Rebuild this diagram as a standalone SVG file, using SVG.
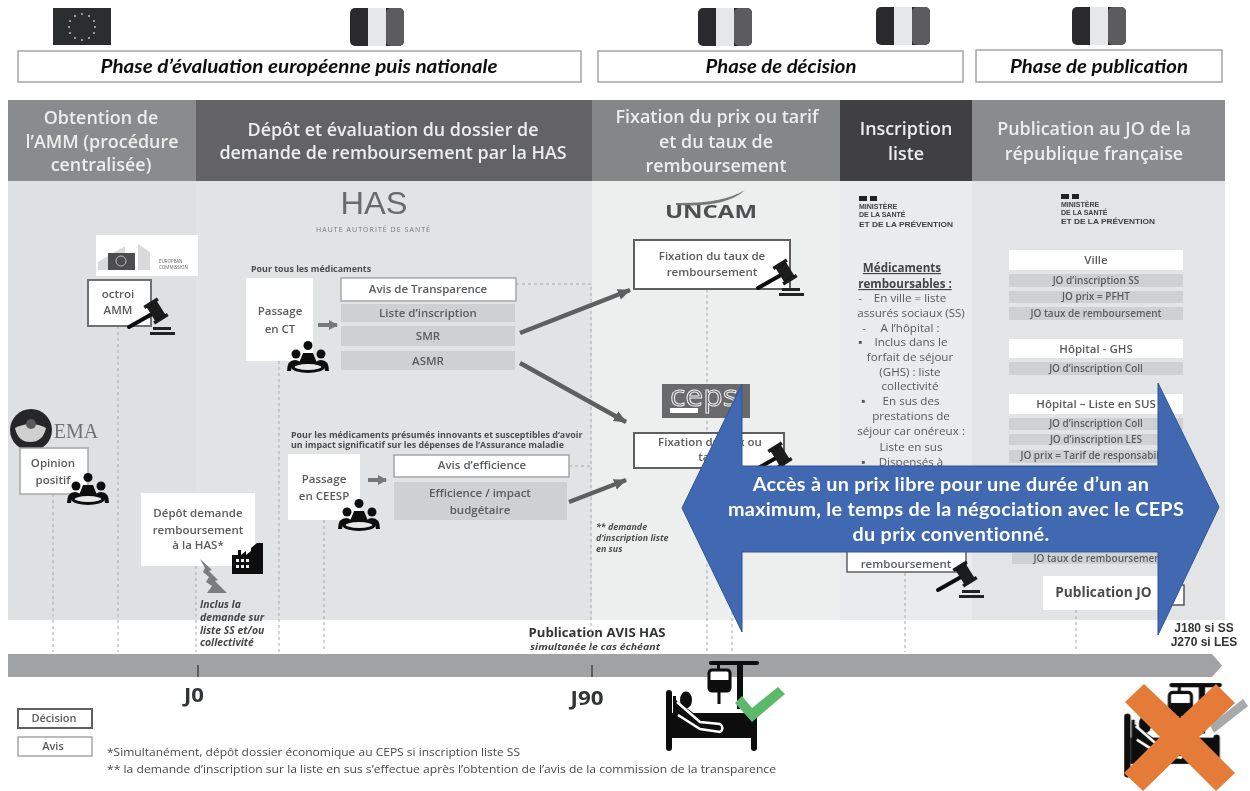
<svg xmlns="http://www.w3.org/2000/svg" xmlns:xlink="http://www.w3.org/1999/xlink" width="1250" height="791" viewBox="0 0 1250 791">
<style>
text{font-family:"Open Sans","Liberation Sans",sans-serif;text-anchor:middle}
.phase{font-family:Lato,"Open Sans",sans-serif;font-weight:700;font-style:italic;font-size:18.5px;fill:#111}
.phaseBox{fill:#fff;stroke:#a3a5a7;stroke-width:1.5}
.head{font-size:17.9px;font-weight:600;fill:#eceded}
.t{font-size:11.5px;fill:#5a5b5d;font-weight:600}
.s{font-size:10px;fill:#5a5b5d;font-weight:600}
.m{font-size:11.6px;fill:#58595b;font-weight:400}
.mh{font-size:11.6px;font-weight:700;fill:#444;text-decoration:underline}
.note{font-size:8.9px;font-weight:700;fill:#4c4d4f;text-anchor:start}
.ital{font-size:10.4px;font-weight:700;font-style:italic;fill:#454648;text-anchor:start}
.gbar{fill:#cfd0d2}
.wbar{fill:#fff}
.w2{fill:#fff;stroke:#a5a7a9;stroke-width:1.5}
.dec{fill:#fff;stroke:#5e5f61;stroke-width:2}
.dash{fill:none;stroke:#a9aaac;stroke-width:1;stroke-dasharray:3 3}
.thick{fill:none;stroke:#5d5e60;stroke-width:4.5;marker-end:url(#ah)}
.small{fill:none;stroke:#77787a;stroke-width:4;marker-end:url(#ah2)}
.blue{font-family:Lato,"Open Sans",sans-serif;font-weight:700;font-size:19.8px;fill:#fff;letter-spacing:.3px}
.mini{font-size:7px;font-weight:700;fill:#3f4042;text-anchor:start;font-family:"Liberation Sans",sans-serif}
.big{font-weight:700;fill:#333436;font-family:"Open Sans",sans-serif}
.day{font-weight:700;fill:#333436;font-family:"Liberation Sans",sans-serif;font-size:12px}
</style>
<defs>
<filter id="soft" x="0" y="0" width="100%" height="100%"><feGaussianBlur stdDeviation="0.45"/></filter>
<marker id="ah" markerUnits="userSpaceOnUse" markerWidth="14" markerHeight="14" refX="12" refY="7" orient="auto"><path d="M0 1.5L13 7L0 12.500z" fill="#5d5e60"/></marker>
<marker id="ah2" markerUnits="userSpaceOnUse" markerWidth="10" markerHeight="12" refX="8" refY="6" orient="auto"><path d="M0 1L9 6L0 11z" fill="#77787a"/></marker>
<symbol id="fr" overflow="visible"><rect width="54" height="38" rx="5" fill="#2a2b2d"/><rect x="36" width="18" height="38" rx="5" fill="#5b5c5f"/><rect x="18" width="18" height="38" fill="#e6e7e8"/></symbol>
<symbol id="gavel" overflow="visible"><path d="M1 0L24 -13" stroke="#111" stroke-width="4" stroke-linecap="round"/><g transform="translate(28 -16) rotate(-32)"><rect x="-6" y="-9" width="12" height="18" fill="#1a1a1a"/><rect x="-8" y="-11" width="16" height="3.500" fill="#1a1a1a"/><rect x="-8" y="7.500" width="16" height="3.500" fill="#1a1a1a"/></g><rect x="25" y="0" width="18" height="3" fill="#222"/><rect x="22" y="5" width="25" height="3" fill="#222"/></symbol>
<symbol id="people" overflow="visible"><g fill="#111"><circle cx="21" cy="4.500" r="4.500"/><circle cx="9" cy="13" r="4.500"/><circle cx="34" cy="13" r="4.500"/><path d="M12 22L16 12H26L30 22z"/><path d="M0 30Q0 19 8 19Q11 19 13 21Q4 24 4 30zM42 30Q42 19 34 19Q31 19 29 21Q38 24 38 30z"/></g><ellipse cx="21" cy="26" rx="15" ry="4.500" fill="#e8e8e8" stroke="#111" stroke-width="3"/></symbol>
<symbol id="bed" overflow="visible"><g fill="#0c0c0c"><rect x="47" y="1" width="50" height="4" rx="2"/><rect x="75" y="3" width="6" height="46"/><rect x="55" y="4" width="3" height="7"/><rect x="47" y="10" width="21" height="21" rx="3" fill="#fff" stroke="#0c0c0c" stroke-width="3"/><rect x="48" y="20" width="19" height="11"/><rect x="55.500" y="30" width="3" height="14"/><rect x="4" y="30" width="6" height="61" rx="3"/><rect x="89" y="50" width="6" height="41" rx="3"/><rect x="10" y="53" width="80" height="25"/><rect x="11" y="36" width="3" height="20"/><ellipse cx="24" cy="40" rx="6" ry="8.500"/><path d="M14 40L34 55H12z"/></g><path d="M15 42L38 62L58 64Q63 68 58 72L38 69L16 55" fill="none" stroke="#fff" stroke-width="2.500"/></symbol>
</defs>
<rect width="1250" height="791" fill="#fff"/>
<g filter="url(#soft)">
<g id="flags">
<rect x="53" y="8" width="58" height="37" fill="#2c2d2f"/>
<g fill="#bdbebf"><circle cx="82" cy="14" r="1"/><circle cx="89" cy="16" r="1"/><circle cx="94" cy="21" r="1"/><circle cx="95" cy="27" r="1"/><circle cx="94" cy="33" r="1"/><circle cx="89" cy="38" r="1"/><circle cx="82" cy="40" r="1"/><circle cx="75" cy="38" r="1"/><circle cx="70" cy="33" r="1"/><circle cx="69" cy="27" r="1"/><circle cx="70" cy="21" r="1"/><circle cx="75" cy="16" r="1"/></g>
<use href="#fr" x="350" y="8"/><use href="#fr" x="698" y="8"/><use href="#fr" x="876" y="7"/><use href="#fr" x="1072" y="7"/>
</g>
<g id="phases">
<rect class="phaseBox" x="18" y="51" width="563" height="31"/><text class="phase" x="299" y="73" textLength="397" lengthAdjust="spacingAndGlyphs">Phase d’évaluation européenne  puis nationale</text>
<rect class="phaseBox" x="598" y="51" width="365" height="31"/><text class="phase" x="781" y="73" textLength="151" lengthAdjust="spacingAndGlyphs">Phase de décision</text>
<rect class="phaseBox" x="976" y="50" width="246" height="32"/><text class="phase" x="1099" y="73" textLength="178" lengthAdjust="spacingAndGlyphs">Phase de publication</text>
</g>
<g id="bands">
<rect x="8" y="181" width="188" height="439" fill="#dfe0e1"/><rect x="196" y="181" width="396" height="439" fill="#e2e3e4"/><rect x="592" y="181" width="248" height="439" fill="#edeeee"/><rect x="840" y="181" width="132" height="439" fill="#eaebec"/><rect x="972" y="181" width="253" height="439" fill="#e2e4e5"/>
<rect x="8" y="100" width="188" height="81" fill="#898b8e"/><rect x="196" y="100" width="396" height="81" fill="#636466"/><rect x="592" y="100" width="248" height="81" fill="#858688"/><rect x="840" y="100" width="132" height="81" fill="#3f4043"/><rect x="972" y="100" width="253" height="81" fill="#8a8b8d"/>
<text class="head" x="101" y="124">Obtention de</text><text class="head" x="102" y="148">l’AMM (procédure</text><text class="head" x="101" y="171">centralisée)</text>
<text class="head" x="393" y="136">Dépôt et évaluation du dossier de</text><text class="head" x="393" y="159">demande de remboursement  par la HAS</text>
<text class="head" x="717" y="123">Fixation du prix ou tarif</text><text class="head" x="716" y="148">et du taux de</text><text class="head" x="716" y="172">remboursement</text>
<text class="head" x="906" y="135">Inscription</text><text class="head" x="906" y="160">liste</text>
<text class="head" x="1094" y="135">Publication au JO de la</text><text class="head" x="1094" y="160">république française</text>
</g>
<g id="timeline">
<path d="M8 654H1212L1222 665.500L1212 677H8z" fill="#a0a2a4"/>
<path d="M198 665V677M592 665V677" stroke="#444" stroke-width="1.500"/>
<text class="big" x="194" y="702" font-size="20" textLength="20" lengthAdjust="spacingAndGlyphs">J0</text><text class="big" x="587" y="705" font-size="20" textLength="33" lengthAdjust="spacingAndGlyphs">J90</text>
<text class="day" x="1204" y="632">J180 si SS</text><text class="day" x="1204" y="646">J270 si LES</text>
<text class="big" x="597" y="637" font-size="11.500" textLength="137" lengthAdjust="spacingAndGlyphs">Publication  AVIS  HAS</text>
<text x="595" y="650" font-size="9" font-weight="700" font-style="italic" fill="#444" textLength="130" lengthAdjust="spacingAndGlyphs">simultanée le cas échéant</text>
</g>
<g id="connectors">
<path class="dash" d="M53 494V652M118 326V652M196 566V652M279 361V652M324 520V652M516 284H591V652M569 466H591M707 289V433M707 468V652M732 468V652M905 573V652M1076 610V652"/>
<path class="thick" d="M520 333L630 290"/><path class="thick" d="M520 363L626 422"/><path class="thick" d="M569 502L626 480"/>
<path class="small" d="M318 325H337"/><path class="small" d="M368 480H386"/>
</g>
<g id="logo-has"><text x="374" y="214" font-size="31" fill="#6a6b6d" style="font-family:'Liberation Sans',sans-serif;font-weight:400" textLength="67" lengthAdjust="spacingAndGlyphs">HAS</text><text x="373" y="232" font-size="7" fill="#77787a" textLength="114">HAUTE AUTORITÉ DE SANTÉ</text></g>
<g id="logo-uncam"><path d="M676 203Q722 204 745 190Q726 208 676 205z" fill="#77787a"/><text x="711" y="218" font-size="17" font-weight="700" fill="#4e4f51" textLength="92" lengthAdjust="spacingAndGlyphs">UNCAM</text></g>
<g id="logo-ministere-1"><rect x="859" y="196" width="8" height="5" fill="#222"/><rect x="870" y="196" width="7" height="5" fill="#222"/><text class="mini" x="859" y="209">MINISTÈRE</text><text class="mini" x="859" y="217">DE LA SANTÉ</text><text class="mini" x="859" y="227" textLength="94" lengthAdjust="spacingAndGlyphs">ET DE LA PRÉVENTION</text></g>
<g id="logo-ministere-2"><rect x="1061" y="194" width="8" height="5" fill="#222"/><rect x="1072" y="194" width="7" height="5" fill="#222"/><text class="mini" x="1061" y="207">MINISTÈRE</text><text class="mini" x="1061" y="215">DE LA SANTÉ</text><text class="mini" x="1061" y="224" textLength="94" lengthAdjust="spacingAndGlyphs">ET DE LA PRÉVENTION</text></g>
<g id="logo-ec"><rect x="96" y="235" width="102" height="41" fill="#fff"/><path d="M98 262L125 246V270H98zM138 270V244L150 252V270z" fill="#d9dadb"/><rect x="108" y="253" width="27" height="17" fill="#4d4e50"/><circle cx="121" cy="261" r="5" fill="none" stroke="#bbb" stroke-width="1"/><text x="159" y="263" font-size="4.500" fill="#666" style="text-anchor:start">EUROPEAN</text><text x="159" y="269" font-size="4.500" fill="#666" style="text-anchor:start">COMMISSION</text></g>
<g id="logo-ema"><circle cx="31" cy="430" r="21" fill="#262729"/><path d="M15 428Q31 420 46 428Q43 442 30 442Q18 442 15 428z" fill="#d0d0d0"/><circle cx="31" cy="424" r="5" fill="#5a5a5a"/><text x="76" y="438" font-size="20" fill="#707173" style="font-family:'Liberation Serif',serif">EMA</text></g>
<g id="logo-ceps"><rect x="662" y="384" width="88" height="34" fill="#6a6b6d"/><text x="704" y="406" font-size="30" fill="none" stroke="#eee" stroke-width="1" style="font-weight:400" textLength="68" lengthAdjust="spacingAndGlyphs">ceps</text><rect x="670" y="408" width="28" height="5" fill="#fff"/></g>
<g id="node-octroi"><rect x="88" y="280" width="63" height="46" fill="#fff" stroke="#6e6f71" stroke-width="2"/><text class="t" x="118" y="298">octroi</text><text class="t" x="118" y="314">AMM</text><use href="#gavel" x="128" y="327"/></g>
<g id="node-opinion"><rect x="20" y="448" width="68" height="46" fill="#fff" stroke="#a5a7a9" stroke-width="1.500"/><text class="t" x="53" y="467">Opinion</text><text class="t" x="53" y="484">positif</text><use href="#people" x="67" y="473"/></g>
<g id="node-depot"><rect x="141" y="493" width="114" height="73" fill="#fff"/><text class="t" x="198" y="517">Dépôt demande</text><text class="t" x="198" y="534">remboursement</text><text class="t" x="198" y="549">à la HAS*</text>
<path d="M232 574V555H238V550H241V555L246 551V555L251 551V548L257 543H263V574z" fill="#111"/><g fill="#eee"><rect x="236" y="559" width="3" height="3"/><rect x="241" y="559" width="3" height="3"/><rect x="246" y="559" width="3" height="3"/><rect x="236" y="565" width="3" height="3"/><rect x="241" y="565" width="3" height="3"/><rect x="246" y="565" width="3" height="3"/></g>
<path d="M200 559L212 570L209 571L218 580L215 581L227 593L207 593L212 586L206 582L209 577L203 572L205 568z" fill="#7b7c7e"/>
<text class="ital" x="200" y="608">Inclus la</text><text class="ital" x="200" y="621">demande sur</text><text class="ital" x="200" y="634">liste SS et/ou</text><text class="ital" x="200" y="646">collectivité</text></g>
<g id="node-ct"><text class="note" x="251" y="272">Pour tous les médicaments</text><rect x="246" y="278" width="67" height="83" fill="#fff"/><text class="t" x="280" y="315">Passage</text><text class="t" x="280" y="333">en CT</text><use href="#people" x="287" y="341"/></g>
<g id="node-transparence"><rect class="w2" x="341" y="278" width="175" height="23"/><text class="t" x="428" y="293">Avis de Transparence</text>
<rect class="gbar" x="341" y="304" width="174" height="18"/><text class="t" x="428" y="317">Liste d’inscription</text>
<rect class="gbar" x="341" y="326" width="174" height="20"/><text class="t" x="428" y="340">SMR</text>
<rect class="gbar" x="341" y="351" width="174" height="19"/><text class="t" x="428" y="365">ASMR</text></g>
<g id="node-ceesp"><text class="note" x="291" y="437.500">Pour les médicaments présumés innovants et susceptibles d’avoir</text><text class="note" x="291" y="448">un impact significatif sur les dépenses de l’Assurance maladie</text><rect x="288" y="454" width="72" height="66" fill="#fff"/><text class="t" x="324" y="483">Passage</text><text class="t" x="324" y="500">en CEESP</text><use href="#people" x="338" y="499"/></g>
<g id="node-efficience"><rect class="w2" x="394" y="455" width="175" height="22"/><text class="t" x="482" y="469">Avis d’efficience</text><rect class="gbar" x="394" y="482" width="173" height="38"/><text class="t" x="480" y="497">Efficience / impact</text><text class="t" x="480" y="514">budgétaire</text></g>
<g id="note-sus"><text class="note" x="596" y="530" font-style="italic">** demande</text><text class="note" x="596" y="541" font-style="italic">d’inscription liste</text><text class="note" x="596" y="552" font-style="italic">en sus</text></g>
<g id="node-taux"><rect class="dec" x="634" y="240" width="156" height="49"/><text class="t" x="712" y="260">Fixation du taux de</text><text class="t" x="712" y="276">remboursement</text><use href="#gavel" x="757" y="288"/></g>
<g id="node-prix"><rect class="dec" x="634" y="433" width="150" height="35"/><text class="t" x="710" y="446">Fixation du prix ou</text><text class="t" x="710" y="461">tarif</text><use href="#gavel" x="752" y="471"/></g>
<g id="node-liste">
<text class="mh" x="902" y="272">Médicaments</text><text class="mh" x="905" y="288">remboursables :</text>
<text class="m" y="302"><tspan x="860">-</tspan><tspan x="910">En ville = liste</tspan></text><text class="m" x="911" y="317">assurés sociaux (SS)</text><text class="m" y="332"><tspan x="864">-</tspan><tspan x="910">A l’hôpital :</tspan></text><text class="m" y="346"><tspan x="860">▪</tspan><tspan x="911">Inclus dans le</tspan></text><text class="m" x="910" y="361">forfait de séjour</text><text class="m" x="910" y="376">(GHS) : liste</text><text class="m" x="910" y="390">collectivité</text><text class="m" y="405"><tspan x="863">▪</tspan><tspan x="911">En sus des</tspan></text><text class="m" x="911" y="420">prestations de</text><text class="m" x="911" y="435">séjour car onéreux :</text><text class="m" x="911" y="451">Liste en sus</text><text class="m" y="466"><tspan x="863">▪</tspan><tspan x="911">Dispensés à</tspan></text>
<rect class="dec" x="847" y="545" width="119" height="27" style="stroke-width:1.500"/><text class="t" x="906" y="568">remboursement</text><use href="#gavel" x="937" y="590"/></g>
<g id="node-ville"><rect class="wbar" x="1009" y="250" width="174" height="20"/><text class="t" x="1096" y="264">Ville</text><rect class="gbar" x="1009" y="274" width="174" height="13"/><text class="s" x="1096" y="284">JO d’inscription SS</text><rect class="gbar" x="1009" y="291" width="174" height="12"/><text class="s" x="1096" y="300">JO prix = PFHT</text><rect class="gbar" x="1009" y="307" width="174" height="13"/><text class="s" x="1096" y="317">JO taux de remboursement</text></g>
<g id="node-ghs"><rect class="wbar" x="1009" y="339" width="174" height="19"/><text class="t" x="1096" y="353">Hôpital - GHS</text><rect class="gbar" x="1009" y="362" width="174" height="13"/><text class="s" x="1096" y="372">JO d’inscription Coll</text></g>
<g id="node-sus"><rect class="wbar" x="1009" y="394" width="174" height="20"/><text class="t" x="1096" y="408">Hôpital – Liste en SUS</text><rect class="gbar" x="1009" y="418" width="174" height="12"/><text class="s" x="1096" y="427">JO d’inscription Coll</text><rect class="gbar" x="1009" y="434" width="174" height="11"/><text class="s" x="1096" y="443">JO d’inscription LES</text><rect class="gbar" x="1009" y="450" width="174" height="13"/><text class="s" x="1096" y="459">JO prix = Tarif de responsabilité</text><rect class="gbar" x="1012" y="553" width="174" height="11"/><text class="s" x="1099" y="562">JO taux de remboursement</text></g>
<g id="node-publication"><rect class="wbar" x="1043" y="576" width="127" height="34"/><text x="1103.500" y="597" font-size="13.700" font-weight="700" fill="#4a4b4d">Publication JO</text><rect x="1165" y="585" width="19" height="20" fill="#fff" stroke="#555" stroke-width="1.500"/></g>
<g id="legend"><rect class="dec" x="18" y="709" width="74" height="19"/><text x="54" y="722" font-size="11" font-weight="600" fill="#5a5b5d">Décision</text><rect class="w2" x="18" y="737" width="74" height="19"/><text x="53" y="750" font-size="11" font-weight="600" fill="#5a5b5d">Avis</text>
<text x="107" y="756" font-size="11" fill="#48494b" style="text-anchor:start" textLength="413" lengthAdjust="spacingAndGlyphs">*Simultanément, dépôt dossier économique au CEPS si inscription liste SS</text>
<text x="107" y="773" font-size="11" fill="#48494b" style="text-anchor:start" textLength="669" lengthAdjust="spacingAndGlyphs">**  la demande d’inscription sur la liste en sus s’effectue après  l’obtention de l’avis de la commission  de la transparence</text></g>
<use href="#bed" x="662" y="660"/>
<use href="#bed" transform="translate(1120 682) scale(1.05)"/>
</g>
<g id="check-green"><path d="M735 703L742 696L752 708L778 687L785 694L752 722z" fill="#5cb96b"/></g>
<g id="check-gray"><path d="M1210 725L1243 699L1248 706L1214 733z" fill="#a8a9ab"/></g>
<g id="blue-arrow"><path d="M682 508L742 384V466H1158V383L1219 507L1158 635V552H742V632z" fill="#4069b1" stroke="#2f5597" stroke-width="1"/>
<text class="blue" x="951" y="491">Accès à un prix libre pour une durée d’un an</text><text class="blue" x="956" y="516">maximum, le temps de la négociation avec le CEPS</text><text class="blue" x="951" y="541">du prix conventionné.</text></g>
<g id="cross"><path d="M1125 702L1144 684L1180 718L1216 684L1235 703L1199 737L1235 773L1216 791L1180 755L1143 791L1124 773L1160 737z" fill="#e57b39"/></g>
</svg>
